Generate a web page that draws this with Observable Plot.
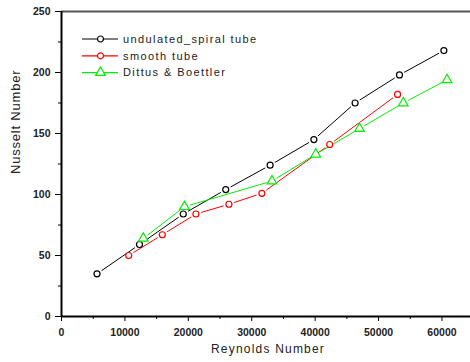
<!DOCTYPE html>
<html>
<head>
<meta charset="utf-8">
<script src="https://cdn.jsdelivr.net/npm/d3@7"></script>
<script src="https://cdn.jsdelivr.net/npm/@observablehq/plot@0.6"></script>
<style>
  body { margin: 0; background: #fff; }
  #chart { position: relative; width: 470px; height: 362px; }
  svg { font-family: "Liberation Sans", Arial, sans-serif; }
</style>
</head>
<body>
<div id="chart"></div>
<script>
// ---- data ----
const seriesNames = ["undulated_spiral tube", "smooth tube", "Dittus & Boettler"];
const seriesColors = ["#000000", "#ff0000", "#00ee00"];
const seriesSymbols = ["circle", "circle", "triangle"];

const spiralRe = [5600, 12300, 19200, 25900, 32900, 39800, 46300, 53300, 60300];
const spiralNu = [35, 59, 84, 104, 124, 145, 175, 198, 218];

const smoothRe = [10600, 15900, 21200, 26400, 31600, 42300, 53000];
const smoothNu = [50, 67, 84, 92, 101, 141, 182];

const dittusRe = [12900, 19400, 33200, 40100, 47000, 53900, 60800];
const dittusNu = [64, 90, 111, 133, 154, 175, 194];

const xTicks = [0, 10000, 20000, 30000, 40000, 50000, 60000];
const xMinorTicks = [5000, 15000, 25000, 35000, 45000, 55000];
const yTicks = [0, 50, 100, 150, 200, 250];
const yMinorTicks = [25, 75, 125, 175, 225];

const xTitle = "Reynolds Number";
const yTitle = "Nusselt Number";

// ---- build tables ----
const raw = [[spiralRe, spiralNu], [smoothRe, smoothNu], [dittusRe, dittusNu]];
const points = [];
const segments = [];
raw.forEach(([xs, ys], s) => {
  xs.forEach((x, i) => {
    points.push({s, x, y: ys[i]});
    if (i > 0) segments.push({s, x1: xs[i - 1], y1: ys[i - 1], x2: x, y2: ys[i]});
  });
});

const fontFamily = '"Liberation Sans", Arial, sans-serif';

const plot = Plot.plot({
  width: 470,
  height: 362,
  marginLeft: 61,
  marginRight: 0,
  marginTop: 11,
  marginBottom: 46,
  style: {fontFamily, background: "#fff", overflow: "visible"},
  x: {domain: [0, 64500]},
  y: {domain: [0, 250]},
  marks: [
    // gapped connecting lines
    Plot.arrow(segments, {
      x1: "x1", y1: "y1", x2: "x2", y2: "y2",
      stroke: d => seriesColors[d.s],
      headLength: 0, inset: 5.5, strokeWidth: 1, strokeLinecap: "butt"
    }),
    // circle markers
    Plot.dot(points.filter(d => seriesSymbols[d.s] === "circle"), {
      x: "x", y: "y", r: 3, symbol: "circle",
      stroke: d => seriesColors[d.s], fill: "white", strokeWidth: 1.2
    }),
    // triangle markers
    Plot.dot(points.filter(d => seriesSymbols[d.s] === "triangle"), {
      x: "x", y: "y", r: 3.6, symbol: "triangle",
      stroke: d => seriesColors[d.s], fill: "white", strokeWidth: 1.2
    }),
    // axes frame lines
    Plot.ruleY([250], {stroke: "#555", strokeWidth: 2}),
    Plot.ruleY([0], {stroke: "#000", strokeWidth: 2}),
    Plot.ruleX([0], {stroke: "#000", strokeWidth: 2}),
    // ticks
    Plot.axisX(xTicks, {
      tickSize: 5, tickPadding: 7, tickFormat: d3.format("d"),
      fontSize: 10.5, fontWeight: "bold", fill: "#222", stroke: "#000", label: null
    }),
    Plot.axisX(xMinorTicks, {tickSize: 3, text: null, stroke: "#000", label: null}),
    Plot.axisY(yTicks, {
      tickSize: 6, tickPadding: 5, tickFormat: d3.format("d"),
      fontSize: 10.5, fontWeight: "bold", fill: "#222", stroke: "#000", label: null
    }),
    Plot.axisY(yMinorTicks, {tickSize: 3, text: null, stroke: "#000", label: null}),
    // axis titles
    Plot.text([xTitle], {
      frameAnchor: "bottom", dy: 36, dx: 2, fontSize: 12, fill: "#222",
      lineAnchor: "bottom"
    }),
    Plot.text([yTitle], {
      frameAnchor: "left", rotate: -90, dx: -45.5, dy: 10, fontSize: 13, fill: "#222"
    })
  ]
});

const svg = d3.select(plot);
svg.selectAll("text").filter(function() { return this.textContent === xTitle; })
  .style("letter-spacing", "1.2px");
svg.selectAll("text").filter(function() { return this.textContent === yTitle; })
  .style("letter-spacing", "0.8px");

// ---- legend (inside plot, top-left) ----
const lg = svg.append("g").attr("font-family", fontFamily).attr("font-size", 11)
  .attr("text-anchor", "start");
seriesNames.forEach((name, i) => {
  const y = 39 + i * 16.8;
  const g = lg.append("g").attr("transform", `translate(0,${y})`);
  g.append("line").attr("x1", 82).attr("x2", 118).attr("y1", 0).attr("y2", 0)
    .attr("stroke", seriesColors[i]).attr("stroke-width", 1.2);
  g.append("path")
    .attr("d", d3.symbol(seriesSymbols[i] === "circle" ? d3.symbolCircle : d3.symbolTriangle,
      seriesSymbols[i] === "circle" ? 9 * Math.PI : 13 * Math.PI)())
    .attr("transform", "translate(100.5,0)")
    .attr("fill", "white").attr("stroke", seriesColors[i]).attr("stroke-width", 1.2);
  g.append("text").attr("x", 123).attr("y", 0).attr("dy", "0.35em")
    .attr("text-anchor", "start")
    .attr("fill", "#222").style("letter-spacing", "1.4px").text(name);
});

document.getElementById("chart").appendChild(plot);
</script>
</body>
</html>
